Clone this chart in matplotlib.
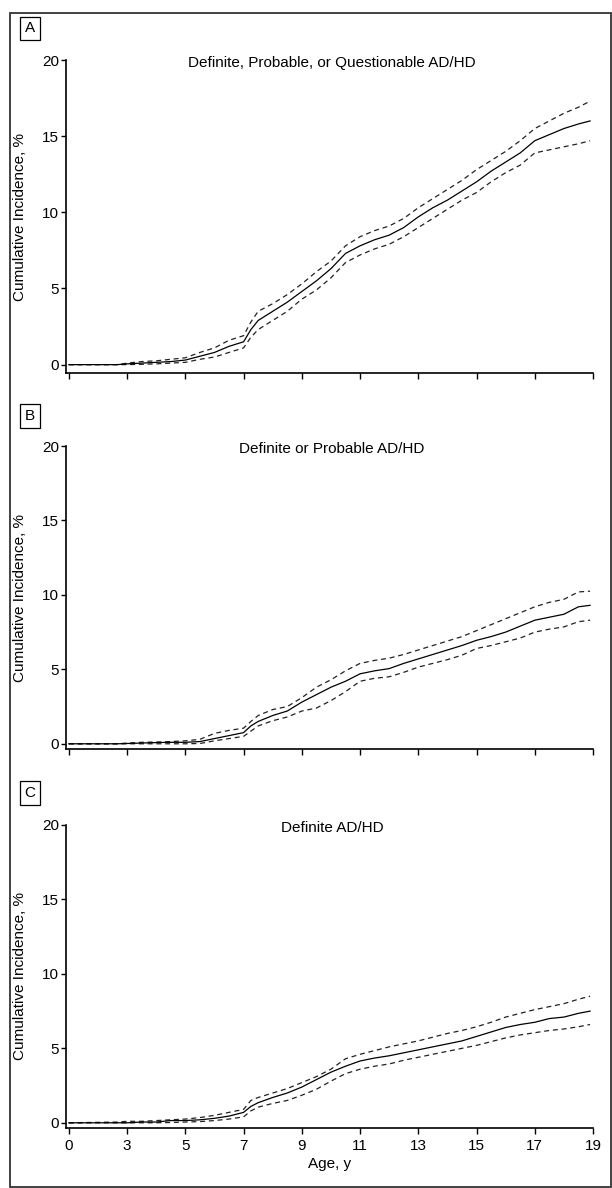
import numpy as np
import matplotlib
matplotlib.use("Agg")
import matplotlib.pyplot as plt
from matplotlib.patches import Rectangle

plt.rcParams['font.family'] = ['Liberation Sans', 'DejaVu Sans']

# ages (y) where the curves are sampled
ages = [0, 2.5, 3, 3.5, 4, 4.5, 5, 5.5, 6, 6.5, 7, 7.25, 7.5, 8, 8.5, 9, 9.5, 10,
        10.5, 11, 11.5, 12, 12.5, 13, 13.5, 14, 14.5, 15, 15.5, 16, 16.5, 17,
        17.5, 18, 18.5, 18.9]

# A: definite, probable or questionable
a_est = [0, 0, 0.05, 0.1, 0.15, 0.2, 0.3, 0.55, 0.8, 1.2, 1.5, 2.3, 2.9, 3.5, 4.1, 4.8,
         5.5, 6.3, 7.3, 7.8, 8.2, 8.5, 9.0, 9.7, 10.3, 10.8, 11.4, 12.0, 12.7, 13.3,
         13.9, 14.7, 15.1, 15.5, 15.8, 16.0]
a_hi = [0, 0, 0.1, 0.2, 0.25, 0.35, 0.45, 0.8, 1.1, 1.6, 1.9, 2.8, 3.5, 4.0, 4.6, 5.3,
        6.1, 6.8, 7.8, 8.4, 8.8, 9.1, 9.6, 10.3, 10.9, 11.5, 12.1, 12.8, 13.4, 14.0,
        14.7, 15.5, 16.0, 16.5, 16.9, 17.3]
a_lo = [0, 0, 0, 0.02, 0.05, 0.1, 0.15, 0.35, 0.5, 0.8, 1.1, 1.8, 2.3, 2.9, 3.5, 4.3,
        4.9, 5.7, 6.7, 7.2, 7.6, 7.9, 8.4, 9.0, 9.6, 10.2, 10.8, 11.3, 12.0, 12.6,
        13.1, 13.9, 14.1, 14.3, 14.5, 14.7]

# B: definite or probable
b_est = [0, 0, 0.02, 0.05, 0.08, 0.1, 0.1, 0.15, 0.35, 0.55, 0.75, 1.2, 1.5, 1.9, 2.2,
         2.8, 3.3, 3.8, 4.2, 4.7, 4.9, 5.05, 5.4, 5.7, 6.0, 6.3, 6.6, 6.95, 7.2, 7.5,
         7.9, 8.3, 8.5, 8.7, 9.2, 9.3]
b_hi = [0, 0, 0.05, 0.1, 0.12, 0.15, 0.2, 0.3, 0.7, 0.9, 1.05, 1.5, 1.9, 2.3, 2.5, 3.1,
        3.8, 4.3, 4.9, 5.4, 5.6, 5.75, 6.0, 6.3, 6.6, 6.9, 7.2, 7.6, 8.0, 8.4, 8.8,
        9.2, 9.5, 9.7, 10.2, 10.25]
b_lo = [0, 0, 0, 0, 0, 0, 0, 0.02, 0.2, 0.35, 0.5, 0.85, 1.2, 1.55, 1.8, 2.2, 2.4, 2.9,
        3.5, 4.2, 4.4, 4.5, 4.8, 5.15, 5.4, 5.65, 5.95, 6.4, 6.6, 6.85, 7.1, 7.5, 7.7,
        7.85, 8.2, 8.3]

# C: definite
c_est = [0, 0, 0, 0.05, 0.05, 0.15, 0.15, 0.2, 0.3, 0.45, 0.7, 1.1, 1.35, 1.7, 2.0, 2.4,
         2.9, 3.4, 3.8, 4.15, 4.35, 4.5, 4.7, 4.9, 5.1, 5.3, 5.5, 5.8, 6.1, 6.4, 6.6,
         6.75, 7.0, 7.1, 7.35, 7.5]
c_hi = [0, 0.05, 0.1, 0.1, 0.15, 0.2, 0.25, 0.35, 0.5, 0.7, 0.9, 1.5, 1.7, 2.0, 2.3, 2.7,
        3.1, 3.6, 4.3, 4.6, 4.85, 5.1, 5.3, 5.5, 5.75, 6.0, 6.2, 6.45, 6.75, 7.1, 7.35,
        7.6, 7.8, 8.0, 8.3, 8.5]
c_lo = [0, 0, 0, 0, 0, 0.02, 0.05, 0.08, 0.15, 0.25, 0.4, 0.8, 1.05, 1.3, 1.5, 1.85,
        2.25, 2.8, 3.3, 3.6, 3.8, 3.95, 4.2, 4.4, 4.6, 4.8, 5.0, 5.2, 5.45, 5.7, 5.9,
        6.05, 6.2, 6.3, 6.45, 6.6]

titles = ["Definite, Probable, or Questionable AD/HD",
          "Definite or Probable AD/HD",
          "Definite AD/HD"]
letters = ["A", "B", "C"]
xticks = [0, 3, 5, 7, 9, 11, 13, 15, 17, 19]
yticks = [0, 5, 10, 15, 20]

panels = [(a_est, a_hi, a_lo), (b_est, b_hi, b_lo), (c_est, c_hi, c_lo)]

W, H = 612, 1188
fig = plt.figure(figsize=(W / 100, H / 100), dpi=100)

# axes boxes in pixels: left, top, right, bottom
boxes = [(65.7, 60, 593, 373), (65.7, 446, 593, 749), (65.7, 825, 593, 1128)]
ybottoms = [-0.55, -0.35, -0.35]
letter_y = [28.5, 416, 793]

# age axis: 0-3 squeezed to the same width as 3-5
def fwd(a):
    a = np.asarray(a, dtype=float)
    return np.where(a < 3, a * 2 / 3, a - 1)

def inv(t):
    t = np.asarray(t, dtype=float)
    return np.where(t < 2, t * 1.5, t + 1)

fs = 11
for i, (box, (est, hi, lo)) in enumerate(zip(boxes, panels)):
    l, t, r, b = box
    ax = fig.add_axes([l / W, 1 - b / H, (r - l) / W, (b - t) / H])
    ax.set_xscale('function', functions=(fwd, inv))
    ax.plot(ages, hi, color='#222222', lw=0.9, ls=(0, (4, 3)))
    ax.plot(ages, lo, color='#222222', lw=0.9, ls=(0, (4, 3)))
    ax.plot(ages, est, color='black', lw=0.9)
    ax.set_xlim(-0.165, 19)
    ax.set_ylim(ybottoms[i], 20)
    ax.set_xticks(xticks)
    ax.set_yticks(yticks)
    ax.xaxis.set_minor_locator(matplotlib.ticker.NullLocator())
    for s in ['top', 'right']:
        ax.spines[s].set_visible(False)
    for s in ['left', 'bottom']:
        ax.spines[s].set_linewidth(1.2)
    ax.spines['left'].set_bounds(ybottoms[i], 20)
    ax.tick_params(axis='y', length=3.5, width=1, pad=1.5, labelsize=fs)
    ax.tick_params(axis='x', length=4, width=1, pad=4, labelsize=fs)
    if i < 2:
        ax.set_xticklabels([])
    else:
        ax.set_xticklabels([str(x) for x in xticks])
        ax.set_xlabel("Age, y", fontsize=fs, labelpad=3)
    ax.set_ylabel("Cumulative Incidence, %", fontsize=fs)
    ax.yaxis.set_label_coords(-0.073, 0.5)
    ax.text(0.505, 0.99, titles[i], transform=ax.transAxes, ha='center', va='center',
            fontsize=fs)
    fig.text(30 / W, 1 - letter_y[i] / H, letters[i], ha='center', va='center', fontsize=fs,
             bbox=dict(boxstyle='square,pad=0.3', fc='white', ec='black', lw=0.9))

# outer frame
fig.patches.append(Rectangle((10 / W, 1 / H), (611 - 10) / W, (1188 - 12.7 - 1) / H,
                             transform=fig.transFigure, fill=False, ec='#333333', lw=1.3))

fig.savefig("out.png", dpi=100)
